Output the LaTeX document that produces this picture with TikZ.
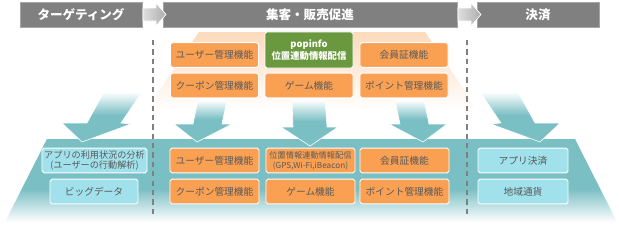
\documentclass[tikz,border=0pt]{standalone}
\usepackage{fontspec}
\setmainfont{Noto Sans CJK JP}
\usepackage{tikz}

\definecolor{barGray}{RGB}{128,128,128}
\definecolor{boxOrange}{RGB}{250,160,82}
\definecolor{boxCyan}{RGB}{160,225,235}
\definecolor{popGreen}{RGB}{106,152,62}
\definecolor{tealBase}{RGB}{122,191,196}
\definecolor{peach}{RGB}{252,218,188}
\definecolor{textGray}{RGB}{89,89,89}

\pgfdeclareverticalshading{tealFade}{100bp}{color(0bp)=(white); color(25bp)=(white); color(45bp)=(tealBase); color(100bp)=(tealBase)}
\pgfdeclareverticalshading{arrowFade}{100bp}{color(0bp)=(tealBase); color(52bp)=(tealBase); color(75bp)=(white); color(100bp)=(white)}

\begin{document}
\begin{tikzpicture}[x=0.03cm, y=-0.03cm,
  headbar/.style={fill=barGray, draw=gray!70, line width=0.4pt, text=white, font=\fontsize{10.7}{12}\selectfont\bfseries, minimum height=0.75cm, inner sep=0pt},
  funcbox/.style={fill=boxOrange, draw=white, line width=0.8pt, rounded corners=1.5pt, text=textGray, font=\fontsize{8.3}{10}\selectfont, minimum width=2.64cm, minimum height=0.74cm, inner sep=0pt, align=center},
  infobox/.style={funcbox, fill=boxCyan},
  popbox/.style={funcbox, fill=popGreen, text=white, font=\fontsize{8}{9.6}\selectfont\bfseries, minimum height=1.08cm},
  blockarrow/.style={shade, shading=arrowFade, draw=white, line width=0.5pt},
  steparrow/.style={left color=gray!25, right color=gray!65, draw=white, line width=0.6pt},
  divider/.style={draw=barGray, line width=1.6pt, dash pattern=on 4.5pt off 3.5pt}
]
\useasboundingbox (0,0) rectangle (619,224);

% 上段の台形(オレンジのぼかし)
\path[top color=peach, bottom color=white] (199,32) -- (425,32) -- (478,110) -- (146,110) -- cycle;

% 下段の台形(ティール)
\path[shade, shading=tealFade] (47,139) -- (575,139) -- (617,222) -- (5,222) -- cycle;

% 下向きの矢印
\path[blockarrow] (104,92) -- (142,92) -- (121,123) -- (131,124) -- (82,142) -- (62,123) -- (87,123) -- cycle;
\path[blockarrow] (198,100) -- (227,100) -- (222,124) -- (232,124) -- (197,142) -- (174,124) -- (193,124) -- cycle;
\path[blockarrow] (292,100) -- (325,100) -- (327,127) -- (338,127) -- (310,146) -- (281,127) -- (293,127) -- cycle;
\path[blockarrow] (395,100) -- (424,100) -- (429,124) -- (447,124) -- (423,142) -- (389,124) -- (400,124) -- cycle;
\path[blockarrow] (480,92) -- (518,92) -- (535,123) -- (560,123) -- (540,142) -- (491,124) -- (501,123) -- cycle;

% 区切りの破線
\draw[divider] (153,40) -- (153,216);
\draw[divider] (467,40) -- (467,216);

% 見出し
\node[headbar, minimum width=3.66cm] (target) at (81,14.5) {ターゲティング};
\node[headbar, minimum width=8.82cm] (promo) at (310,14.5) {集客・販売促進};
\node[headbar, minimum width=3.66cm] (settle) at (538,14.5) {決済};
\draw[steparrow] (143,8) -- (156,8) -- (156,3) -- (166,14.5) -- (156,26) -- (156,21) -- (143,21) -- cycle;
\draw[steparrow] (458,8) -- (471,8) -- (471,3) -- (481,14.5) -- (471,26) -- (471,21) -- (458,21) -- cycle;

% 上段の機能
\node[funcbox] (userA) at (214.5,55) {ユーザー管理機能};
\node[popbox] (popinfo) at (309,50) {popinfo\\位置連動情報配信};
\node[funcbox] (memberA) at (404,55) {会員証機能};
\node[funcbox] (couponA) at (214.5,85.5) {クーポン管理機能};
\node[funcbox] (gameA) at (309,85.5) {ゲーム機能};
\node[funcbox] (pointA) at (404,85.5) {ポイント管理機能};

% 下段の機能
\node[infobox, minimum width=3.15cm, font=\fontsize{7.8}{9.2}\selectfont] (analysis) at (94.5,160.5) {アプリの利用状況の分析\\(ユーザーの行動解析)};
\node[infobox] (bigdata) at (94,191.5) {ビッグデータ};
\node[funcbox, minimum width=2.67cm] (userB) at (214.5,160.5) {ユーザー管理機能};
\node[funcbox, minimum width=2.67cm, font=\fontsize{7}{8.6}\selectfont] (locB) at (310.5,160.5) {位置情報連動情報配信\\(GPS,Wi-Fi,iBeacon)};
\node[funcbox, minimum width=2.67cm] (memberB) at (404.5,160.5) {会員証機能};
\node[funcbox, minimum width=2.67cm] (couponB) at (214.5,191.5) {クーポン管理機能};
\node[funcbox, minimum width=2.67cm] (gameB) at (310.5,191.5) {ゲーム機能};
\node[funcbox, minimum width=2.67cm] (pointB) at (404.5,191.5) {ポイント管理機能};
\node[infobox, minimum width=2.7cm] (apppay) at (523,160.5) {アプリ決済};
\node[infobox, minimum width=2.7cm] (localcur) at (523,191.5) {地域通貨};
\end{tikzpicture}
\end{document}
